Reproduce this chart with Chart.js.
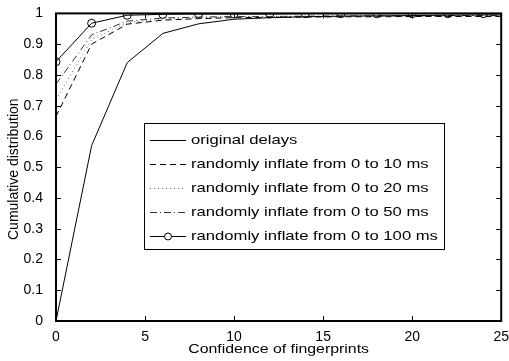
<!DOCTYPE html>
<html>
<head>
<meta charset="utf-8">
<script src="https://cdn.jsdelivr.net/npm/chart.js@4.4.1/dist/chart.umd.min.js"></script>
<style>
  html, body { margin: 0; padding: 0; background: #fff; }
  #wrap { width: 509px; height: 361px; }
</style>
</head>
<body>
<div id="wrap"><canvas id="canvasCdf" width="509" height="361"></canvas></div>
<script>
// data
let confidence = [0, 2, 4, 6, 8, 10, 12, 14, 16, 18, 20, 22, 24, 25]
let originalDelays = [0, 0.57, 0.84, 0.935, 0.966, 0.981, 0.986, 0.989, 0.991, 0.992, 0.993, 0.994, 0.995, 0.995]
let inflate10 = [0.665, 0.9, 0.965, 0.978, 0.983, 0.986, 0.987, 0.988, 0.989, 0.989, 0.99, 0.99, 0.99, 0.99]
let inflate20 = [0.72, 0.915, 0.97, 0.982, 0.986, 0.988, 0.989, 0.99, 0.99, 0.991, 0.991, 0.991, 0.991, 0.991]
let inflate50 = [0.77, 0.93, 0.975, 0.985, 0.988, 0.99, 0.99, 0.991, 0.992, 0.992, 0.992, 0.993, 0.993, 0.993]
let inflate100 = [0.843, 0.968, 0.994, 0.997, 0.998, 0.998, 0.998, 0.999, 0.999, 0.999, 0.999, 0.999, 0.999, 0.999]
let xTicks = [0, 5, 10, 15, 20, 25]
let yTicks = [0, 0.1, 0.2, 0.3, 0.4, 0.5, 0.6, 0.7, 0.8, 0.9, 1]
let seriesNames = ["original delays", "randomly inflate from 0 to 10 ms", "randomly inflate from 0 to 20 ms",
    "randomly inflate from 0 to 50 ms", "randomly inflate from 0 to 100 ms"]
let xTitle = "Confidence of fingerprints"
let yTitle = "Cumulative distribution"

const FONT = "'Liberation Sans', Arial, sans-serif"

ToPoints = values => values.map((v, i) => ({ x: confidence[i], y: v }))

MakeDataset = (label, values, dash, color, marker) => ({
    label,
    data: ToPoints(values),
    borderColor: color,
    borderWidth: 1,
    borderDash: dash,
    pointRadius: marker ? confidence.map(c => c % 2 === 0 ? 4 : 0) : 0,
    pointStyle: "circle",
    pointBackgroundColor: "rgba(0,0,0,0)",
    pointBorderColor: "#000",
    pointBorderWidth: 1,
    fill: false,
    tension: 0
})

// the reference text is stretched sideways, so draw it with a scale
WideText = (ctx, text, x, y, size, stretch, align) => {
    ctx.save()
    ctx.font = size + "px " + FONT
    ctx.textBaseline = "middle"
    ctx.textAlign = align
    ctx.translate(x, y)
    ctx.scale(stretch, 1)
    ctx.fillText(text, 0, 0)
    ctx.restore()
}

// box, inward ticks, titles and the legend drawn the matlab way
const matlabFrame = {
    id: "matlabFrame",
    afterDatasetsDraw(chart) {
        const { ctx, chartArea: a, scales: { x, y } } = chart
        ctx.save()
        ctx.strokeStyle = "#000"
        ctx.lineWidth = 1
        ctx.setLineDash([])
        ctx.beginPath()
        xTicks.forEach(t => {
            const px = Math.round(x.getPixelForValue(t)) + 0.5
            ctx.moveTo(px, a.bottom); ctx.lineTo(px, a.bottom - 5)
            ctx.moveTo(px, a.top); ctx.lineTo(px, a.top + 5)
        })
        yTicks.forEach(t => {
            const py = Math.round(y.getPixelForValue(t)) + 0.5
            ctx.moveTo(a.left, py); ctx.lineTo(a.left + 5, py)
            ctx.moveTo(a.right, py); ctx.lineTo(a.right - 5, py)
        })
        ctx.stroke()
        ctx.lineWidth = 2
        ctx.strokeRect(a.left, a.top, a.right - a.left, a.bottom - a.top)

        ctx.fillStyle = "#000"
        WideText(ctx, xTitle, (a.left + a.right) / 2, 349, 13, 1.22, "center")
        ctx.save()
        ctx.translate(14, (a.top + a.bottom) / 2 + 2)
        ctx.rotate(-Math.PI / 2)
        WideText(ctx, yTitle, 0, 0, 14, 1, "center")
        ctx.restore()

        // legend
        const box = { left: 144, top: 123, width: 300, height: 126 }
        ctx.fillStyle = "#fff"
        ctx.fillRect(box.left, box.top, box.width, box.height)
        ctx.lineWidth = 1
        ctx.strokeRect(box.left + 0.5, box.top + 0.5, box.width, box.height)
        chart.data.datasets.forEach((ds, i) => {
            const rowY = box.top + 17.5 + i * 24
            ctx.strokeStyle = ds.borderColor
            ctx.setLineDash(ds.borderDash)
            ctx.beginPath()
            ctx.moveTo(150, rowY); ctx.lineTo(186, rowY)
            ctx.stroke()
            ctx.setLineDash([])
            if (i === 4) {
                ctx.fillStyle = "#fff"
                ctx.beginPath()
                ctx.arc(168, rowY, 3.5, 0, Math.PI * 2)
                ctx.fill()
                ctx.strokeStyle = "#000"
                ctx.stroke()
            }
            ctx.fillStyle = "#000"
            WideText(ctx, ds.label, 191, rowY, 13, 1.28, "left")
        })
        ctx.restore()
    }
}

new Chart(document.getElementById("canvasCdf"), {
    type: "line",
    data: {
        datasets: [
            MakeDataset(seriesNames[0], originalDelays, [], "#000", false),
            MakeDataset(seriesNames[1], inflate10, [6, 4], "#000", false),
            MakeDataset(seriesNames[2], inflate20, [1, 3], "#666", false),
            MakeDataset(seriesNames[3], inflate50, [7, 3, 1, 3], "#333", false),
            MakeDataset(seriesNames[4], inflate100, [], "#000", true)
        ]
    },
    options: {
        responsive: false,
        animation: false,
        layout: { padding: { top: 9, right: 7, left: 0, bottom: 0 } },
        plugins: { legend: { display: false }, tooltip: { enabled: false } },
        scales: {
            x: {
                type: "linear",
                min: 0,
                max: 25,
                afterBuildTicks: scale => { scale.ticks = xTicks.map(v => ({ value: v })) },
                afterFit: scale => { scale.height = 40 },
                grid: { display: false },
                border: { display: false },
                ticks: { color: "#000", font: { family: FONT, size: 14 }, padding: 0, maxRotation: 0 }
            },
            y: {
                min: 0,
                max: 1,
                afterBuildTicks: scale => { scale.ticks = yTicks.map(v => ({ value: v })) },
                afterFit: scale => { scale.width = 56 },
                grid: { display: false },
                border: { display: false },
                ticks: { color: "#000", font: { family: FONT, size: 14 }, padding: 5, callback: v => String(+v.toFixed(1)) }
            }
        }
    },
    plugins: [matlabFrame]
})
</script>
</body>
</html>
